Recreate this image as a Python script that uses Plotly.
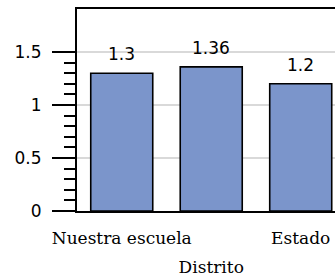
import plotly.graph_objects as go

categories = ["Nuestra escuela", "Distrito", "Estado"]
tick_labels = ["<span style='font-size:17px'>Nuestra escuela</span>",
               "<br><span style='font-size:17px'>Distrito</span>",
               "<span style='font-size:17px'>Estado</span>"]
values = [1.3, 1.36, 1.2]
value_labels = ["1.3", "1.36", "1.2"]
y_major = [0, 0.5, 1, 1.5]
y_minor = [0.1, 0.2, 0.3, 0.4, 0.6, 0.7, 0.8, 0.9, 1.1, 1.2, 1.3, 1.4]

fig = go.Figure()
fig.add_trace(go.Bar(
    x=categories, y=values,
    marker=dict(color="#7b95cb", line=dict(color="#000000", width=1.6)),
    hoverinfo="skip",
))

for c, v, t in zip(categories, values, value_labels):
    fig.add_annotation(x=c, y=v, text=t, showarrow=False, xref="x", yref="y",
                       yanchor="bottom", yshift=7,
                       font=dict(family="DejaVu Sans", size=17, color="#000000"))

fig.update_layout(
    width=335, height=278,
    margin=dict(l=77, r=0, t=9, b=67),
    paper_bgcolor="white", plot_bgcolor="white",
    bargap=0.307,
    showlegend=False,
    xaxis=dict(
        type="category", range=[-0.5, 2.383],
        tickvals=categories, ticktext=tick_labels, tickangle=0,
        automargin=False, ticklabelstandoff=5,
        showline=True, mirror=True, linecolor="#000000", linewidth=2,
        ticks="", showgrid=False,
        tickfont=dict(family="DejaVu Serif", size=22, color="#000000"),
    ),
    yaxis=dict(
        range=[0, 1.906], automargin=False,
        tickmode="array", tickvals=y_major,
        ticktext=["0", "0.5", "1", "1.5"],
        ticks="outside", ticklen=23, tickwidth=2, tickcolor="#000000",
        ticklabelstandoff=7,
        showline=True, linecolor="#000000", linewidth=2,
        showgrid=True, gridcolor="#d9d9d9", gridwidth=1.5,
        zeroline=False,
        tickfont=dict(family="DejaVu Sans", size=17, color="#000000"),
        minor=dict(tickmode="array", tickvals=y_minor, ticks="outside",
                   ticklen=11, tickwidth=2, tickcolor="#000000", showgrid=False),
    ),
)

fig.write_html(
    "out.html",
    config={"displayModeBar": False},
    post_script="document.body.style.margin='0';document.body.style.overflow='hidden';",
)
